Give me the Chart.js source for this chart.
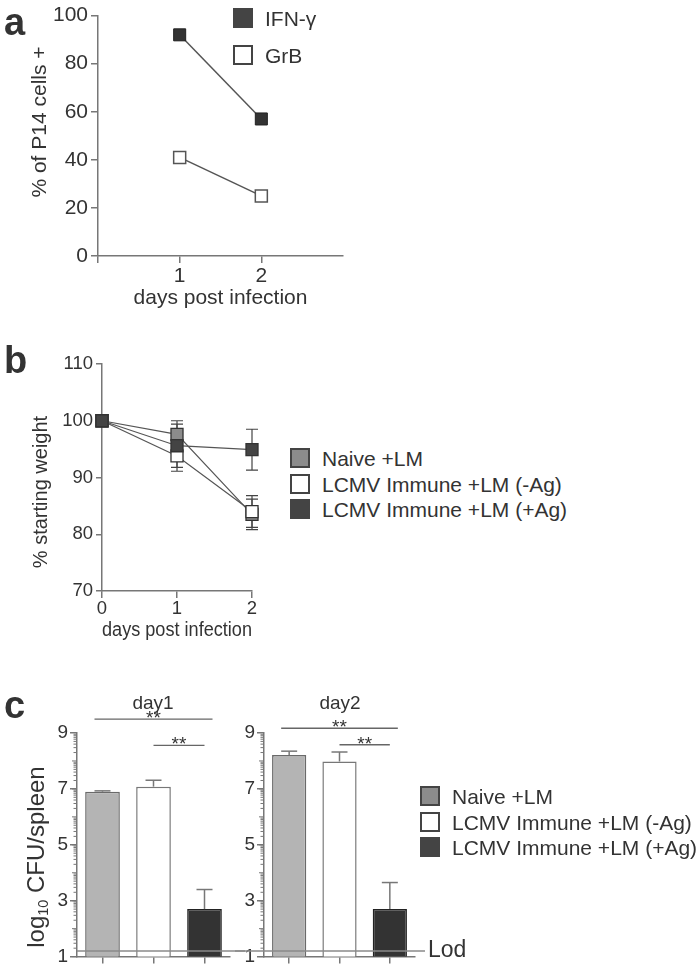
<!DOCTYPE html>
<html>
<head>
<meta charset="utf-8">
<script src="https://cdn.jsdelivr.net/npm/chart.js@4.4.1/dist/chart.umd.min.js"></script>
<style>
  body { margin: 0; background: #fff; }
  #page { position: relative; width: 700px; height: 970px; overflow: hidden;
          font-family: "Liberation Sans", Arial, sans-serif; color: #333; }
  canvas { position: absolute; }
  .t { position: absolute; white-space: nowrap; line-height: 1; transform: translateY(-50%); }
  .tc { position: absolute; white-space: nowrap; line-height: 1; transform: translate(-50%, -50%); }
  .letter { position: absolute; font-weight: bold; font-size: 38px; line-height: 1; }
  .sq { position: absolute; box-sizing: border-box; width: 20px; height: 20px;
        border: 2px solid #444; transform: translateY(-50%); }
  .yt { position: absolute; white-space: nowrap; line-height: 1;
        transform: translate(-50%, -50%) rotate(-90deg); }
  sub { font-size: 0.6em; vertical-align: -0.25em; }
</style>
</head>
<body>
<div id="page">
  <canvas id="chartA" width="360" height="320" style="left:0;top:0"></canvas>
  <canvas id="chartB" width="280" height="320" style="left:0;top:330px"></canvas>
  <canvas id="chartC1" width="245" height="280" style="left:0;top:690px"></canvas>
  <canvas id="chartC2" width="255" height="280" style="left:235px;top:690px"></canvas>

  <div class="letter" style="left:4px;top:3px">a</div>
  <div class="letter" style="left:4px;top:341px">b</div>
  <div class="letter" style="left:4px;top:686px">c</div>

  <div class="yt" style="left:38px;top:122px;font-size:21px">% of P14 cells +</div>
  <div class="yt" style="left:40px;top:492px;font-size:20px">% starting weight</div>
  <div class="yt" style="left:37px;top:857px;font-size:24px">log<sub>10</sub> CFU/spleen</div>

  <div class="tc" style="left:153px;top:702px;font-size:19px">day1</div>
  <div class="tc" style="left:340px;top:702px;font-size:19px">day2</div>
</div>

<script>
// ---- panel a: % of P14 cells positive
const daysA = [1, 2];
const ifnG = [92, 57];
const grB = [41, 25];
const seriesA = ['IFN-γ', 'GrB'];

// ---- panel b: % starting weight (mean, sem)
const daysB = [0, 1, 2];
const weightNaive = [100, 97.6, 83.5];
const weightNaiveErr = [0, 2.4, 2.7];
const weightNoAg = [100, 93.8, 84.0];
const weightNoAgErr = [0, 2.7, 2.8];
const weightAg = [100, 95.6, 94.9];
const weightAgErr = [0, 3.8, 3.6];

// ---- panel c: log10 CFU/spleen
const groups = ['Naive +LM', 'LCMV Immune +LM (-Ag)', 'LCMV Immune +LM (+Ag)'];
const cfuDay1 = [6.9, 7.08, 2.7];
const cfuDay1Err = [0.03, 0.23, 0.7];
const cfuDay2 = [8.21, 7.98, 2.7];
const cfuDay2Err = [0.14, 0.34, 0.95];
const sigPairs = [[0, 2], [1, 2]];
const sigDay1 = [9.5, 8.56];
const sigDay2 = [9.17, 8.58];
const lod = 1.2;

const FONT = '"Liberation Sans", Arial, sans-serif';
const TEXT = '#333';
const AXIS = '#777';
const LINE = '#555';
Chart.defaults.font.family = FONT;
Chart.defaults.color = TEXT;

const groupFill = ['#8c8c8c', '#ffffff', '#444444'];
const barFill = ['#b4b4b4', '#ffffff', '#333333'];
const barBorder = ['#6a6a6a', '#777777', '#222222'];

function axis(size, extra) {
  return Object.assign({
    grid: { drawOnChartArea: false, color: AXIS, lineWidth: 1.5, tickLength: 7 },
    border: { color: AXIS, width: 1.5 },
  }, extra, { ticks: Object.assign({ color: TEXT, font: { size }, maxRotation: 0 }, extra.ticks || {}) });
}

const noPlugins = { legend: { display: false }, tooltip: { enabled: false } };

// ---------- a
new Chart(document.getElementById('chartA'), {
  type: 'line',
  data: {
    datasets: [
      { label: seriesA[0], data: daysA.map((d, i) => ({ x: d, y: ifnG[i] })),
        borderColor: LINE, borderWidth: 1.5, pointStyle: 'rect', pointRadius: 8.5,
        pointBackgroundColor: '#333', pointBorderColor: '#222', pointBorderWidth: 1, clip: false },
      { label: seriesA[1], data: daysA.map((d, i) => ({ x: d, y: grB[i] })),
        borderColor: LINE, borderWidth: 1.5, pointStyle: 'rect', pointRadius: 8.5,
        pointBackgroundColor: '#fff', pointBorderColor: '#555', pointBorderWidth: 1.5, clip: false }
    ]
  },
  options: {
    responsive: false, animation: false,
    layout: { padding: { top: 12, right: 17 } },
    plugins: noPlugins,
    scales: {
      x: axis(21, {
        type: 'linear', min: 0, max: 3,
        afterBuildTicks: s => { s.ticks = [0, ...daysA].map(v => ({ value: v })); },
        afterFit: s => { s.height = 64; },
        ticks: { padding: 1, callback: v => v === 0 ? '' : v },
        title: { display: true, text: 'days post infection', color: TEXT, font: { size: 21 }, padding: { top: 0, bottom: 9 } }
      }),
      y: axis(21, {
        min: 0, max: 100,
        afterFit: s => { s.width = 98; },
        ticks: { stepSize: 20, padding: 3 }
      })
    }
  }
});

// ---------- b
const errPlugin = {
  id: 'errBars',
  beforeDatasetsDraw(chart) {
    const { ctx, scales: { x, y } } = chart;
    ctx.save();
    ctx.strokeStyle = '#444';
    ctx.lineWidth = 1.2;
    chart.data.datasets.forEach(ds => {
      ds.data.forEach((p, j) => {
        const e = ds.err[j];
        if (!e) return;
        const px = x.getPixelForValue(p.x);
        const t = y.getPixelForValue(p.y + e), b = y.getPixelForValue(p.y - e);
        ctx.beginPath();
        ctx.moveTo(px, t); ctx.lineTo(px, b);
        ctx.moveTo(px - 6, t); ctx.lineTo(px + 6, t);
        ctx.moveTo(px - 6, b); ctx.lineTo(px + 6, b);
        ctx.stroke();
      });
    });
    ctx.restore();
  }
};

function weightSet(i, vals, errs, order) {
  return {
    label: groups[i], data: daysB.map((d, j) => ({ x: d, y: vals[j] })), err: errs, order,
    borderColor: LINE, borderWidth: 1.2, pointStyle: 'rect', pointRadius: 8.5,
    pointBackgroundColor: groupFill[i], pointBorderColor: '#333', pointBorderWidth: 1.3, clip: false
  };
}

new Chart(document.getElementById('chartB'), {
  type: 'line',
  data: {
    datasets: [
      weightSet(0, weightNaive, weightNaiveErr, 2),
      weightSet(1, weightNoAg, weightNoAgErr, 1),
      weightSet(2, weightAg, weightAgErr, 0)
    ]
  },
  options: {
    responsive: false, animation: false,
    layout: { padding: { top: 34, right: 28 } },
    plugins: noPlugins,
    scales: {
      x: axis(18.5, {
        type: 'linear', min: 0, max: 2,
        afterFit: s => { s.height = 59; },
        ticks: { stepSize: 1, padding: 0 },
        title: { display: true, text: 'days post infection', color: TEXT, font: { size: 19.5 }, padding: { top: 0, bottom: 8 } }
      }),
      y: axis(18.5, {
        min: 70, max: 110,
        afterFit: s => { s.width = 102; },
        grid: { drawOnChartArea: false, color: AXIS, lineWidth: 1.5, tickLength: 6 },
        ticks: { stepSize: 10, padding: 3 }
      })
    }
  },
  plugins: [errPlugin]
});

// ---------- c
const cfuPlugin = {
  id: 'cfuMarks',
  afterDatasetsDraw(chart, args, o) {
    const { ctx, chartArea: a, scales: { x, y } } = chart;
    const seg = (x0, y0, x1, y1) => { ctx.beginPath(); ctx.moveTo(x0, y0); ctx.lineTo(x1, y1); ctx.stroke(); };
    ctx.save();
    // error bars, upper half only
    ctx.strokeStyle = '#777';
    ctx.lineWidth = 1.5;
    o.values.forEach((v, i) => {
      const px = x.getPixelForValue(i);
      const y0 = y.getPixelForValue(v), y1 = y.getPixelForValue(v + o.errs[i]);
      seg(px, y0, px, y1);
      seg(px - 8, y1, px + 8, y1);
    });
    // limit of detection
    ctx.strokeStyle = '#8a8a8a';
    ctx.lineWidth = 1.3;
    const ly = y.getPixelForValue(lod);
    seg(o.lodLabel ? 0 : a.left, ly, o.lodLabel ? a.right + 10 : chart.width, ly);
    ctx.fillStyle = TEXT;
    if (o.lodLabel) {
      ctx.font = '23px ' + FONT;
      ctx.textAlign = 'left';
      ctx.textBaseline = 'middle';
      ctx.fillText('Lod', a.right + 13, ly);
    }
    // significance bars
    ctx.strokeStyle = '#666';
    ctx.lineWidth = 1.3;
    ctx.font = '19px ' + FONT;
    ctx.textAlign = 'center';
    ctx.textBaseline = 'alphabetic';
    sigPairs.forEach(([i0, i1], k) => {
      const ext = k === 0 ? 8 : 0;
      const x0 = x.getPixelForValue(i0) - ext, x1 = x.getPixelForValue(i1) + ext;
      const sy = y.getPixelForValue(o.sig[k]);
      seg(x0, sy, x1, sy);
      ctx.fillText('**', (x0 + x1) / 2, sy + 5);
    });
    ctx.restore();
  },
  afterDraw(chart) {
    const { ctx, chartArea: a, scales: { y } } = chart;
    ctx.save();
    ctx.strokeStyle = AXIS;
    ctx.lineWidth = 1;
    for (let n = Math.ceil(y.min); n < y.max; n++) {
      for (let k = 1; k <= 9; k++) {
        const py = y.getPixelForValue(n + Math.log10(k));
        const len = k === 1 ? 5 : 3.5;
        ctx.beginPath(); ctx.moveTo(a.left - len, py); ctx.lineTo(a.left, py); ctx.stroke();
      }
    }
    ctx.restore();
  }
};

function cfuChart(id, values, errs, sig, yWidth, padRight, lodLabel) {
  return new Chart(document.getElementById(id), {
    type: 'bar',
    data: {
      labels: groups,
      datasets: [{
        data: values, backgroundColor: barFill, borderColor: barBorder, borderWidth: 1.5,
        barPercentage: 0.68, categoryPercentage: 1
      }]
    },
    options: {
      responsive: false, animation: false,
      layout: { padding: { top: 43, right: padRight } },
      plugins: Object.assign({ cfuMarks: { values, errs, sig, lodLabel } }, noPlugins),
      scales: {
        x: axis(17, {
          afterFit: s => { s.height = 11; },
          grid: { drawOnChartArea: false, offset: false, color: AXIS, lineWidth: 1.5, tickLength: 7 },
          ticks: { display: false }
        }),
        y: axis(19, {
          min: 1, max: 9,
          afterFit: s => { s.width = yWidth; },
          ticks: { stepSize: 2, padding: 2 }
        })
      }
    },
    plugins: [cfuPlugin]
  });
}

cfuChart('chartC1', cfuDay1, cfuDay1Err, sigDay1, 77, 15, false);
cfuChart('chartC2', cfuDay2, cfuDay2Err, sigDay2, 29, 75, true);

// ---------- legends
const page = document.getElementById('page');
function legend(labels, fills, left, top0, step) {
  labels.forEach((lab, i) => {
    const cy = top0 + i * step;
    const sq = document.createElement('div');
    sq.className = 'sq';
    sq.style.left = left + 'px';
    sq.style.top = cy + 'px';
    sq.style.background = fills[i];
    page.appendChild(sq);
    const t = document.createElement('div');
    t.className = 't';
    t.style.left = (left + 32) + 'px';
    t.style.top = cy + 'px';
    t.style.fontSize = '21px';
    t.textContent = lab;
    page.appendChild(t);
  });
}
legend(seriesA, ['#444', '#fff'], 233, 17.5, 37.5);
legend(groups, groupFill, 290, 458, 25.5);
legend(groups, groupFill, 420, 796, 25.5);
</script>
</body>
</html>
